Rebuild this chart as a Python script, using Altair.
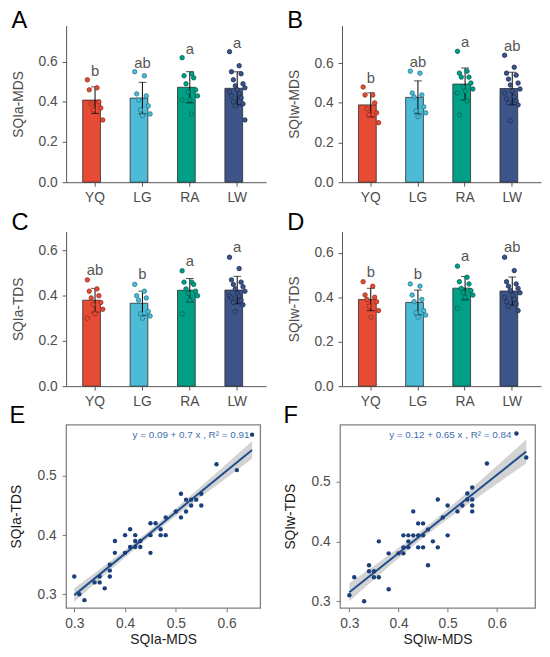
import altair as alt
import numpy as np
import pandas as pd

FONT = "Liberation Sans"
groups = ["YQ", "LG", "RA", "LW"]
bar_colors = ["#E64B35", "#4DBBD5", "#00A087", "#3C5488"]
edge_colors = ["#9E3222", "#2A8196", "#006B5A", "#223259"]

# Panel A: SQIa-MDS
A_YQ = [0.51, 0.47, 0.46, 0.40, 0.39, 0.37, 0.36, 0.31]
A_LG = [0.55, 0.53, 0.44, 0.43, 0.41, 0.38, 0.36, 0.34, 0.33]
A_RA = [0.62, 0.54, 0.53, 0.52, 0.49, 0.46, 0.45, 0.43, 0.41, 0.41, 0.34]
A_LW = [0.65, 0.58, 0.55, 0.54, 0.51, 0.49, 0.48, 0.47, 0.46, 0.45, 0.44, 0.43, 0.42, 0.40, 0.39, 0.38, 0.31]
A_letters = ["b", "ab", "a", "a"]

# Panel B: SQIw-MDS
B_YQ = [0.48, 0.44, 0.44, 0.40, 0.37, 0.35, 0.34, 0.30]
B_LG = [0.56, 0.55, 0.45, 0.44, 0.43, 0.38, 0.36, 0.35, 0.33]
B_RA = [0.66, 0.56, 0.55, 0.53, 0.53, 0.50, 0.48, 0.47, 0.46, 0.45, 0.41, 0.34]
B_LW = [0.64, 0.58, 0.55, 0.54, 0.52, 0.50, 0.49, 0.47, 0.46, 0.45, 0.43, 0.42, 0.41, 0.40, 0.39, 0.31]
B_letters = ["b", "ab", "a", "ab"]

# Panel C: SQIa-TDS
C_YQ = [0.47, 0.43, 0.42, 0.40, 0.39, 0.37, 0.36, 0.34, 0.32, 0.30]
C_LG = [0.45, 0.42, 0.40, 0.39, 0.38, 0.33, 0.32, 0.31, 0.30]
C_RA = [0.51, 0.46, 0.46, 0.45, 0.43, 0.42, 0.41, 0.40, 0.38, 0.32]
C_LW = [0.57, 0.52, 0.47, 0.46, 0.45, 0.44, 0.43, 0.42, 0.41, 0.40, 0.40, 0.39, 0.38, 0.37, 0.36, 0.33]
C_letters = ["ab", "b", "a", "a"]

# Panel D: SQIw-TDS
D_YQ = [0.47, 0.45, 0.41, 0.40, 0.39, 0.38, 0.36, 0.34, 0.31]
D_LG = [0.46, 0.45, 0.41, 0.39, 0.38, 0.34, 0.33, 0.32, 0.31]
D_RA = [0.54, 0.49, 0.47, 0.46, 0.44, 0.43, 0.42, 0.41, 0.40, 0.35]
D_LW = [0.58, 0.52, 0.47, 0.46, 0.45, 0.44, 0.43, 0.42, 0.41, 0.40, 0.39, 0.38, 0.37, 0.36, 0.34]
D_letters = ["b", "b", "a", "ab"]

# Panel E: SQIa-MDS vs SQIa-TDS
E_mds = [0.30, 0.31, 0.32, 0.34, 0.35, 0.35, 0.36, 0.37, 0.37, 0.37,
         0.38, 0.38, 0.40, 0.40, 0.41, 0.41, 0.42, 0.42, 0.42, 0.43,
         0.43, 0.45, 0.45, 0.45, 0.46, 0.47, 0.47, 0.48, 0.48, 0.50,
         0.51, 0.51, 0.52, 0.52, 0.53, 0.53, 0.54, 0.55, 0.55, 0.58,
         0.62, 0.65]
E_tds = [0.33, 0.30, 0.29, 0.32, 0.33, 0.32, 0.31, 0.35, 0.34, 0.33,
         0.39, 0.37, 0.40, 0.37, 0.41, 0.38, 0.40, 0.39, 0.38, 0.39,
         0.38, 0.42, 0.40, 0.37, 0.42, 0.41, 0.40, 0.40, 0.43, 0.44,
         0.47, 0.43, 0.46, 0.44, 0.45, 0.46, 0.46, 0.47, 0.45, 0.52,
         0.51, 0.57]
E_text = "y = 0.09 + 0.7 x ,  R² = 0.91"

# Panel F: SQIw-MDS vs SQIw-TDS
F_mds = [0.30, 0.31, 0.33, 0.34, 0.34, 0.35, 0.35, 0.36, 0.36, 0.38,
         0.38, 0.40, 0.41, 0.41, 0.41, 0.42, 0.42, 0.42, 0.43, 0.43,
         0.44, 0.44, 0.44, 0.45, 0.45, 0.45, 0.46, 0.46, 0.47, 0.48,
         0.48, 0.49, 0.50, 0.50, 0.52, 0.53, 0.54, 0.54, 0.55, 0.55,
         0.55, 0.55, 0.58, 0.64, 0.66]
F_tds = [0.31, 0.34, 0.30, 0.36, 0.35, 0.35, 0.34, 0.40, 0.34, 0.38,
         0.32, 0.38, 0.39, 0.41, 0.38, 0.41, 0.40, 0.39, 0.45, 0.41,
         0.43, 0.41, 0.39, 0.43, 0.41, 0.39, 0.42, 0.36, 0.40, 0.47,
         0.39, 0.44, 0.46, 0.41, 0.45, 0.46, 0.48, 0.47, 0.49, 0.47,
         0.46, 0.45, 0.53, 0.58, 0.54]
F_text = "y = 0.12 + 0.65 x ,  R² = 0.84"

LABEL_GRAY = "#4d4d4d"
AXIS_GRAY = "#555555"


def panel_title(tag, offset):
    return alt.TitleParams(tag, anchor="start", fontSize=24, offset=offset,
                           font=FONT, fontWeight="normal", color="black")


def bar_panel(series, letters, ytitle, ymax, w, h, tag, toff):
    rows = []
    for g, vals, let in zip(groups, series, letters):
        for i, v in enumerate(vals):
            jit = (((i * 5) % 9) - 4) / 4.0
            rows.append({"group": g, "value": v, "jit": jit, "letter": let})
    df = pd.DataFrame(rows)
    base = alt.Chart(df)
    xs = alt.Scale(paddingInner=0.48, paddingOuter=0.35)
    xax = alt.Axis(title=None, labelAngle=0, labelFontSize=14, labelColor=LABEL_GRAY,
                   tickSize=4, labelPadding=5, domainColor=AXIS_GRAY, tickColor=AXIS_GRAY,
                   labelFont=FONT)
    x = alt.X("group:N", sort=groups, scale=xs, axis=xax)
    ys = alt.Scale(domain=[0, ymax], nice=False, zero=True)
    yax = alt.Axis(title=ytitle, values=[0, 0.2, 0.4, 0.6], format=".1f", labelFontSize=14,
                   titleFontSize=14, labelColor=LABEL_GRAY, titleColor=LABEL_GRAY,
                   tickSize=4, labelPadding=5, titlePadding=13, domainColor=AXIS_GRAY,
                   tickColor=AXIS_GRAY, grid=False, titleFontWeight="normal",
                   labelFont=FONT, titleFont=FONT)
    fill_scale = alt.Scale(domain=groups, range=bar_colors)
    bars = base.mark_bar(stroke="#2b2b2b", strokeWidth=0.8).encode(
        x=x,
        y=alt.Y("mean(value):Q", scale=ys, axis=yax, title=ytitle),
        fill=alt.Fill("group:N", scale=fill_scale, legend=None),
    )
    stats = base.transform_aggregate(
        m="mean(value)", s="stdev(value)", groupby=["group"]
    ).transform_calculate(lo="datum.m - datum.s", hi="datum.m + datum.s")
    rule = stats.mark_rule(color="black", strokeWidth=1).encode(
        x=x, y=alt.Y("lo:Q", scale=ys, axis=yax, title=ytitle), y2="hi:Q")
    caps = stats.transform_fold(["lo", "hi"], as_=["k", "v"]).mark_tick(
        color="black", size=8, thickness=1).encode(
        x=x, y=alt.Y("v:Q", scale=ys, axis=yax, title=ytitle))
    pts = base.mark_point(shape="circle", filled=True, size=20, strokeWidth=0.9,
                          opacity=1).encode(
        x=x,
        xOffset=alt.XOffset("jit:Q", scale=alt.Scale(domain=[-1.6, 1.6])),
        y=alt.Y("value:Q", scale=ys, axis=yax, title=ytitle),
        fill=alt.Fill("group:N", scale=fill_scale, legend=None),
        stroke=alt.Stroke("group:N", scale=alt.Scale(domain=groups, range=edge_colors),
                          legend=None),
    )
    labs = base.transform_aggregate(
        mx="max(value)", groupby=["group", "letter"]
    ).transform_calculate(ly="datum.mx + 0.045").mark_text(
        fontSize=15, color="#555555", baseline="middle", font=FONT).encode(
        x=x, y=alt.Y("ly:Q", scale=ys, axis=yax, title=ytitle), text="letter:N")
    return alt.layer(bars, rule, caps, pts, labs).properties(
        width=w, height=h, title=panel_title(tag, toff))


def scatter_panel(xv, yv, xtitle, ytitle, xdom, ydom, text, text_right, w, h, tag, toff):
    xa = np.array(xv)
    ya = np.array(yv)
    df = pd.DataFrame({"x": xa, "y": ya})
    n = len(xa)
    b1, b0 = np.polyfit(xa, ya, 1)
    resid = ya - (b0 + b1 * xa)
    s = np.sqrt(np.sum(resid ** 2) / (n - 2))
    sxx = np.sum((xa - xa.mean()) ** 2)
    gx = np.linspace(xa.min(), xa.max(), 60)
    se = s * np.sqrt(1.0 / n + (gx - xa.mean()) ** 2 / sxx)
    fit = b0 + b1 * gx
    ci = pd.DataFrame({"x": gx, "lo": fit - 2.02 * se, "hi": fit + 2.02 * se})

    xs = alt.Scale(domain=xdom, nice=False, zero=False)
    ys = alt.Scale(domain=ydom, nice=False, zero=False)
    xax = alt.Axis(title=xtitle, values=[0.3, 0.4, 0.5, 0.6], format=".1f", labelFontSize=14,
                   titleFontSize=14, labelColor=LABEL_GRAY, titleColor="#1a1a1a",
                   tickSize=4, labelPadding=5, titlePadding=2, domain=False,
                   tickColor="#777777", grid=False, titleFontWeight="normal",
                   labelFont=FONT, titleFont=FONT)
    yax = alt.Axis(title=ytitle, values=[0.3, 0.4, 0.5], format=".1f", labelFontSize=14,
                   titleFontSize=14, labelColor=LABEL_GRAY, titleColor="#1a1a1a",
                   tickSize=4, labelPadding=6, titlePadding=14, domain=False,
                   tickColor="#777777", grid=False, titleFontWeight="normal",
                   labelFont=FONT, titleFont=FONT)
    band = alt.Chart(ci).mark_area(color="#c4c4c4", opacity=0.75).encode(
        x=alt.X("x:Q", scale=xs, axis=xax),
        y=alt.Y("lo:Q", scale=ys, axis=yax),
        y2="hi:Q",
    )
    line = alt.Chart(df).transform_regression("x", "y").mark_line(
        color="#1f4e8c", strokeWidth=2).encode(
        x=alt.X("x:Q", scale=xs, axis=xax), y=alt.Y("y:Q", scale=ys, axis=yax))
    pts = alt.Chart(df).mark_circle(size=20, color="#1b3f7a", opacity=1).encode(
        x=alt.X("x:Q", scale=xs, axis=xax), y=alt.Y("y:Q", scale=ys, axis=yax))
    ann = alt.Chart(pd.DataFrame({"t": [text]})).mark_text(
        align="right", baseline="middle", fontSize=10, color="#3d6eb0", font=FONT).encode(
        x=alt.value(w - text_right), y=alt.value(11), text="t:N")
    return alt.layer(band, line, pts, ann).properties(
        width=w, height=h,
        view=alt.ViewBackground(stroke="#808080", strokeWidth=1.3),
        title=panel_title(tag, toff))


pA = bar_panel([A_YQ, A_LG, A_RA, A_LW], A_letters, "SQIa-MDS", 0.78, 203, 159, "A", -7)
pB = bar_panel([B_YQ, B_LG, B_RA, B_LW], B_letters, "SQIw-MDS", 0.79, 202, 159, "B", -7)
pC = bar_panel([C_YQ, C_LG, C_RA, C_LW], C_letters, "SQIa-TDS", 0.684, 203, 157, "C", -3)
pD = bar_panel([D_YQ, D_LG, D_RA, D_LW], D_letters, "SQIw-TDS", 0.696, 202, 157, "D", -3)
pE = scatter_panel(E_mds, E_tds, "SQIa-MDS", "SQIa-TDS", [0.284, 0.666], [0.277, 0.587],
                   E_text, 11, 197, 186, "E", -3)
pF = scatter_panel(F_mds, F_tds, "SQIw-MDS", "SQIw-TDS", [0.281, 0.678], [0.289, 0.595],
                   F_text, 24, 198, 186, "F", -3)

row1 = alt.hconcat(pA, pB, spacing=20)
row2 = alt.hconcat(pC, pD, spacing=20)
row3 = alt.hconcat(pE, pF, spacing=21)
top = alt.vconcat(row1, row2, spacing=4)
chart = alt.vconcat(top, row3, spacing=-7).properties(
    padding={"left": 0, "top": -5, "right": 0, "bottom": 0}
).configure(font=FONT).configure_view(stroke="transparent")

chart.save("out.html", embed_options={"renderer": "svg", "actions": False})
